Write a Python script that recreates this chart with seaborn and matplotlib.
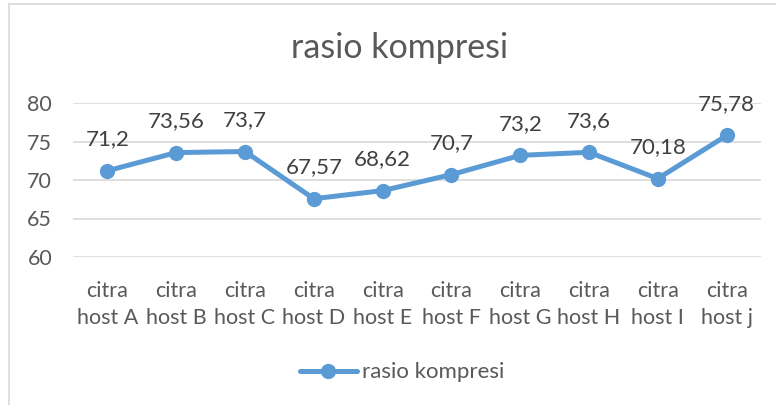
import matplotlib
matplotlib.use("Agg")
import matplotlib.pyplot as plt
import seaborn as sns
import pandas as pd
from matplotlib.patches import Rectangle

categories = ["citra\nhost A", "citra\nhost B", "citra\nhost C", "citra\nhost D", "citra\nhost E",
              "citra\nhost F", "citra\nhost G", "citra\nhost H", "citra\nhost I", "citra\nhost j"]
values = [71.2, 73.56, 73.7, 67.57, 68.62, 70.7, 73.2, 73.6, 70.18, 75.78]
value_labels = ["71,2", "73,56", "73,7", "67,57", "68,62", "70,7", "73,2", "73,6", "70,18", "75,78"]
y_ticks = [60, 65, 70, 75, 80]
series_name = "rasio kompresi"

sns.set_theme(style="white")
plt.rcParams['font.family'] = ['Lato', 'DejaVu Sans']

color = "#5B9BD5"
grey = "#595959"

fig = plt.figure(figsize=(7.76, 4.05), dpi=100)
ax = fig.add_axes([73/776, 1-257/405, (761-73)/776, (257-103)/405])

df = pd.DataFrame({"kategori": categories, "nilai": values})
sns.lineplot(data=df, x="kategori", y="nilai", sort=False, ax=ax, color=color,
             linewidth=3.6, marker="o", markersize=11, markeredgewidth=0,
             label=series_name)

ax.set_xlim(-0.5, len(categories) - 0.5)
ax.set_ylim(60, 80)
ax.set_yticks(y_ticks)
ax.yaxis.grid(True, color="#D9D9D9", linewidth=1.2)
ax.set_axisbelow(True)
for s in ax.spines.values():
    s.set_visible(False)
ax.set_xlabel("")
ax.set_ylabel("")
ax.tick_params(axis="y", length=0, pad=15, labelsize=15.5, labelcolor=grey)
ax.tick_params(axis="x", length=0, pad=17, labelsize=15.5, labelcolor=grey)
for t in ax.get_xticklabels():
    t.set_linespacing(1.45)

for i, (v, lab) in enumerate(zip(values, value_labels)):
    ax.annotate(lab, (i, v), xytext=(0, 15.5), textcoords="offset points",
                ha="center", va="bottom", fontsize=16, color="#404040")

fig.text(400/776, 1-48/405, "rasio kompresi", ha="center", va="center",
         fontsize=24.5, color=grey)

leg = ax.legend(loc="center", bbox_to_anchor=(0.478, -0.75), frameon=False,
                fontsize=16, handlelength=2.6, handletextpad=0.2,
                labelcolor=grey)

fig.patches.append(Rectangle((9/776, -0.1), 1.2, 1 - 4/405 + 0.1,
                             transform=fig.transFigure, fill=False,
                             edgecolor="#D9D9D9", linewidth=1.2))

fig.savefig("out.png", dpi=100)
